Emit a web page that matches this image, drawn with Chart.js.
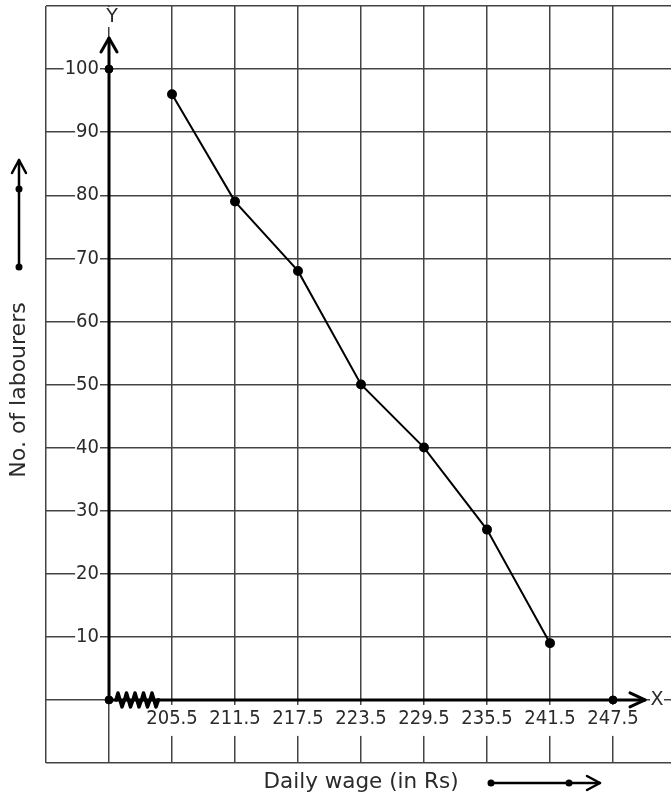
<!DOCTYPE html>
<html>
<head>
<meta charset="utf-8">
<script src="https://cdn.jsdelivr.net/npm/chart.js@4/dist/chart.umd.min.js"></script>
<style>
html,body{margin:0;padding:0;background:#fff;}
#wrap{width:671px;height:798px;position:relative;}
</style>
</head>
<body>
<div id="wrap"><canvas id="c" width="671" height="798"></canvas></div>
<script>
// ---- data ----
const wages = [205.5, 211.5, 217.5, 223.5, 229.5, 235.5, 241.5];
const labourers = [96, 79, 68, 50, 40, 27, 9];
const markerX = [199.5, 199.5, 247.5];
const markerY = [0, 100, 0];
const xTickValues = [193.5, 199.5, 205.5, 211.5, 217.5, 223.5, 229.5, 235.5, 241.5, 247.5];
const xTickLabels = ['', '', '205.5', '211.5', '217.5', '223.5', '229.5', '235.5', '241.5', '247.5'];
const yTickLabels = ['', '', '10', '20', '30', '40', '50', '60', '70', '80', '90', '100', ''];
const xTitle = 'Daily wage (in Rs)';
const yTitle = 'No. of labourers';

const TICK_FONT = '"DejaVu Sans Condensed", "DejaVu Sans"';
const FONT = 'DejaVu Sans';
const TXT = '#2a2a2a';
const GRID = '#444';

const noPad = (s) => { s.paddingTop = 0; s.paddingBottom = 0; s.paddingLeft = 0; s.paddingRight = 0; };
const backdropFor = (labels) => (c) => (labels[c.index] ? '#fff' : 'rgba(0,0,0,0)');

const decor = {
  id: 'decor',
  beforeDatasetsDraw(chart) {
    const {ctx, scales: {x, y}} = chart;
    const ox = x.getPixelForValue(199.5), oy = y.getPixelForValue(0);
    ctx.save();
    ctx.strokeStyle = '#000'; ctx.lineWidth = 3; ctx.lineCap = 'round'; ctx.lineJoin = 'round';
    // x axis
    const xe = 645;
    ctx.beginPath(); ctx.moveTo(ox, oy); ctx.lineTo(xe, oy); ctx.stroke();
    ctx.beginPath(); ctx.moveTo(xe - 15, oy - 7); ctx.lineTo(xe, oy); ctx.lineTo(xe - 15, oy + 7); ctx.stroke();
    // y axis
    const ye = 38;
    ctx.beginPath(); ctx.moveTo(ox, oy); ctx.lineTo(ox, ye); ctx.stroke();
    ctx.beginPath(); ctx.moveTo(ox - 8, ye + 14); ctx.lineTo(ox, ye); ctx.lineTo(ox + 8, ye + 14); ctx.stroke();
    // zigzag break
    ctx.lineWidth = 3.5;
    ctx.beginPath();
    let zx = ox + 7; ctx.moveTo(zx, oy);
    for (let i = 0; i < 5; i++) {
      ctx.lineTo(zx + 2, oy - 7); ctx.lineTo(zx + 6, oy + 7); ctx.lineTo(zx + 8.5, oy);
      zx += 8.5;
    }
    ctx.stroke();
    // axis letters
    ctx.font = '19px "' + FONT + '"';
    ctx.textBaseline = 'middle'; ctx.textAlign = 'center';
    ctx.fillStyle = '#fff';
    ctx.fillRect(650, oy - 10, 14, 20);
    ctx.fillRect(104, 7, 17, 20);
    ctx.fillStyle = TXT;
    ctx.fillText('X', 657, oy);
    ctx.fillText('Y', 112, 17);
    ctx.restore();
  },
  afterDraw(chart) {
    const {ctx} = chart;
    ctx.save();
    ctx.fillStyle = TXT;
    ctx.textAlign = 'center'; ctx.textBaseline = 'middle';
    ctx.font = '21.5px "' + FONT + '"';
    ctx.fillText(xTitle, 361, 782);
    ctx.save();
    ctx.font = '22px "' + FONT + '"';
    ctx.translate(19, 390); ctx.rotate(-Math.PI / 2);
    ctx.fillText(yTitle, 0, 0);
    ctx.restore();
    // arrows beside titles
    ctx.strokeStyle = '#000'; ctx.fillStyle = '#000'; ctx.lineWidth = 2.5; ctx.lineCap = 'round'; ctx.lineJoin = 'round';
    ctx.beginPath(); ctx.moveTo(491, 783); ctx.lineTo(600, 783); ctx.stroke();
    ctx.beginPath(); ctx.moveTo(587, 776); ctx.lineTo(600, 783); ctx.lineTo(587, 790); ctx.stroke();
    ctx.beginPath(); ctx.arc(491, 783, 3.5, 0, Math.PI * 2); ctx.fill();
    ctx.beginPath(); ctx.arc(569, 783, 3.5, 0, Math.PI * 2); ctx.fill();
    ctx.beginPath(); ctx.moveTo(19, 267); ctx.lineTo(19, 160); ctx.stroke();
    ctx.beginPath(); ctx.moveTo(12, 173); ctx.lineTo(19, 160); ctx.lineTo(26, 173); ctx.stroke();
    ctx.beginPath(); ctx.arc(19, 267, 3.5, 0, Math.PI * 2); ctx.fill();
    ctx.beginPath(); ctx.arc(19, 189, 3.5, 0, Math.PI * 2); ctx.fill();
    ctx.restore();
  }
};

new Chart(document.getElementById('c'), {
  type: 'scatter',
  data: {
    datasets: [
      {
        label: 'Labourers',
        data: wages.map((w, i) => ({x: w, y: labourers[i]})),
        showLine: true,
        borderColor: '#000',
        backgroundColor: '#000',
        borderWidth: 2,
        pointRadius: 4,
        pointHoverRadius: 4,
        tension: 0
      },
      {
        label: 'Markers',
        data: markerX.map((v, i) => ({x: v, y: markerY[i]})),
        showLine: false,
        borderColor: '#000',
        backgroundColor: '#000',
        pointRadius: 4,
        pointHoverRadius: 4
      }
    ]
  },
  options: {
    responsive: false,
    animation: false,
    events: [],
    layout: {autoPadding: false, padding: {left: 46, top: 6, right: 0, bottom: 35}},
    plugins: {legend: {display: false}, tooltip: {enabled: false}},
    scales: {
      x: {
        type: 'linear',
        position: {y: 0},
        min: 193.5,
        max: 193.5 + 625 / 63 * 6,
        afterBuildTicks: (s) => { s.ticks = xTickValues.map(v => ({value: v})); },
        afterFit: noPad,
        grid: {color: GRID, lineWidth: 1.5, drawTicks: false},
        border: {display: false},
        ticks: {
          autoSkip: false,
          maxRotation: 0,
          padding: 7,
          color: TXT,
          font: {family: TICK_FONT, size: 20},
          callback: (v, i) => xTickLabels[i],
          showLabelBackdrop: true,
          backdropColor: backdropFor(xTickLabels),
          backdropPadding: {top: 2, bottom: 5, left: 1, right: 1}
        }
      },
      y: {
        type: 'linear',
        position: {x: 199.5 - 10 * 6 / 63},
        min: -10,
        max: 110,
        afterFit: noPad,
        grid: {color: GRID, lineWidth: 1.5, drawTicks: false},
        border: {display: false},
        ticks: {
          stepSize: 10,
          autoSkip: false,
          padding: 10,
          color: TXT,
          font: {family: TICK_FONT, size: 20},
          callback: (v, i) => yTickLabels[i],
          showLabelBackdrop: true,
          backdropColor: backdropFor(yTickLabels),
          backdropPadding: {top: 0, bottom: 0, left: 1, right: 1}
        }
      }
    }
  },
  plugins: [decor]
});
</script>
</body>
</html>
